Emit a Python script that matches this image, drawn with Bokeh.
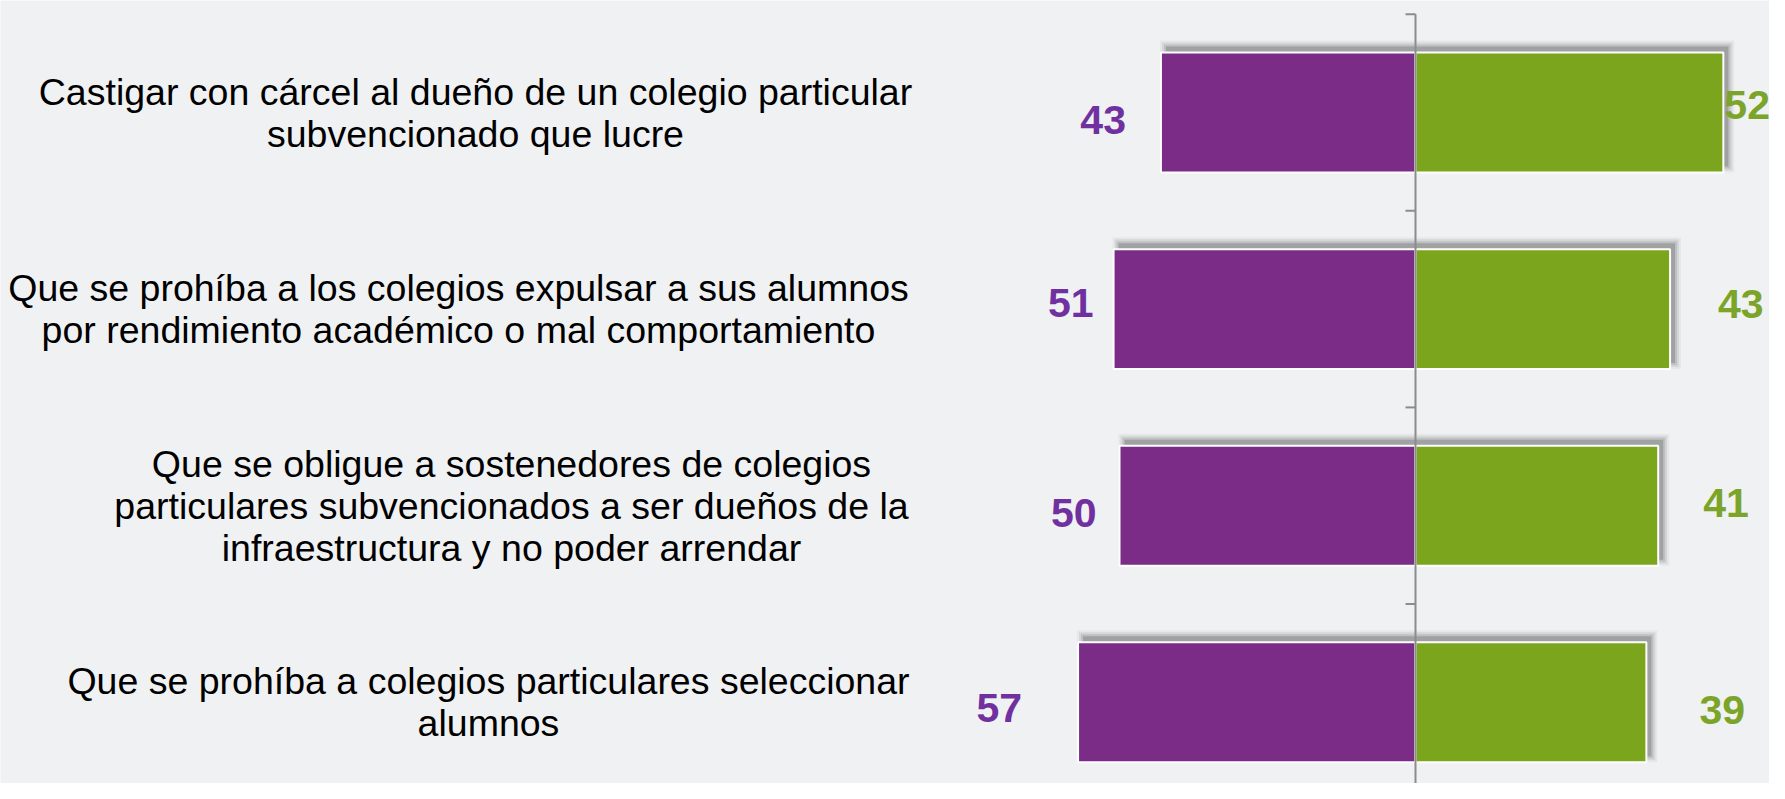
from math import pi

from bokeh.plotting import figure
from bokeh.models import Range1d, ColumnDataSource
from bokeh.core.properties import value
from bokeh.embed import file_html
from bokeh.resources import INLINE

# ---------------- data ----------------
categories = [
    "Castigar con cárcel al dueño de un colegio particular\nsubvencionado que lucre",
    "Que se prohíba a los colegios expulsar a sus alumnos\npor rendimiento académico o mal comportamiento",
    "Que se obligue a sostenedores de colegios\nparticulares subvencionados a ser dueños de la\ninfraestructura y no poder arrendar",
    "Que se prohíba a colegios particulares seleccionar\nalumnos",
]
serie_morada = [43, 51, 50, 57]   # left (purple) bars
serie_verde = [52, 43, 41, 39]    # right (green) bars

# ---------------- layout / style ----------------
W, H = 1769, 783
PX_PER_UNIT = 5.92          # horizontal pixels per value unit
BAND = 196.6                # vertical pixels per category
AXIS_PX = 1415              # canvas x of the zero line
FIRST_CENTER_PX = 112       # canvas y of the first category centre
BAR_H = 0.61

PURPLE = "#7B2C87"
GREEN = "#7CA51E"
PURPLE_TXT = "#7030A0"
GREEN_TXT = "#7BA428"
BG = "#f0f1f3"
AXIS_COL = "#8c8c8c"

# label placement tweaks (screen px)
cat_center_px = [475, 458, 511, 488]
purple_gap = [35, 20, 23, 56]
purple_dy = [7, -6, 7, 6]
green_gap = [1, 48, 45, 53]
green_dy = [-8, -5, -3, 8]

n = len(categories)
idx = list(range(n))

x_range = Range1d(-AXIS_PX / PX_PER_UNIT, (W - AXIS_PX) / PX_PER_UNIT)
y_range = Range1d((H - FIRST_CENTER_PX) / BAND, -FIRST_CENTER_PX / BAND)

p = figure(width=W, height=H, x_range=x_range, y_range=y_range,
           x_axis_type=None, y_axis_type=None,
           output_backend="svg", toolbar_location=None,
           min_border=0, outline_line_color=None,
           background_fill_color=BG, border_fill_color=BG)
p.grid.visible = False

# soft drop shadow (offset up-right)
dx, dy = 5, 6
for grow, alpha in [(6, 0.04), (4, 0.07), (2, 0.10), (0, 0.16)]:
    src = ColumnDataSource(dict(
        y=[i - dy / BAND for i in idx],
        left=[-v + (dx - grow) / PX_PER_UNIT for v in serie_morada],
        right=[v + (dx + grow) / PX_PER_UNIT for v in serie_verde],
    ))
    p.hbar(y="y", left="left", right="right", height=BAR_H + 2 * grow / BAND,
           source=src, fill_color="black", fill_alpha=alpha, line_color=None)

# bars
p.hbar(y=idx, left=[-v for v in serie_morada], right=0, height=BAR_H,
       fill_color=PURPLE, line_color="white", line_width=2)
p.hbar(y=idx, left=0, right=serie_verde, height=BAR_H,
       fill_color=GREEN, line_color="white", line_width=2)

# zero axis line + ticks at category boundaries
bounds = [i - 0.5 for i in idx] + [n - 0.5]
p.segment(x0=[0], y0=[bounds[0]], x1=[0], y1=[y_range.start + 0.1],
          line_color=AXIS_COL, line_width=2)
p.ray(x=[0] * len(bounds), y=bounds, length=10, length_units="screen",
      angle=pi, line_color=AXIS_COL, line_width=2)

# value labels
p.text(x=[-v for v in serie_morada], y=idx, text=[str(v) for v in serie_morada],
       x_offset=[-g for g in purple_gap], y_offset=purple_dy,
       text_align="right", text_baseline="middle",
       text_font=value("Liberation Sans"), text_font_style="bold",
       text_font_size="41px", text_color=PURPLE_TXT)
p.text(x=serie_verde, y=idx, text=[str(v) for v in serie_verde],
       x_offset=green_gap, y_offset=green_dy,
       text_align="left", text_baseline="middle",
       text_font=value("Liberation Sans"), text_font_style="bold",
       text_font_size="41px", text_color=GREEN_TXT)

# category labels
p.text(x=[x_range.start] * n, y=idx, text=categories,
       x_offset=cat_center_px, text_align="center", text_baseline="middle",
       text_font=value("Liberation Sans"), text_font_size="37.5px",
       text_line_height=1.0, text_color="#000000")

open("out.html", "w").write(file_html(p, INLINE))
